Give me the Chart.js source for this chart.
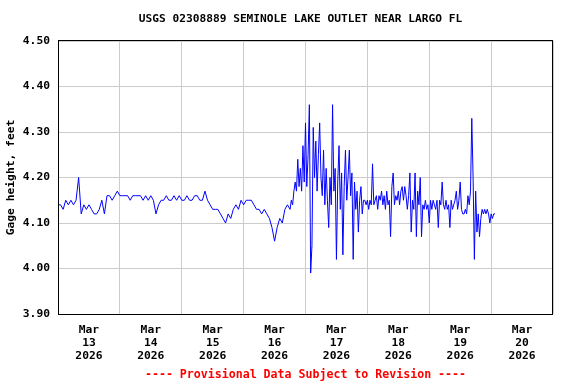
<!DOCTYPE html>
<html>
<head>
<meta charset="utf-8">
<script src="https://cdn.jsdelivr.net/npm/chart.js@4/dist/chart.umd.min.js"></script>
<style>
  body { margin: 0; background: #fff; }
  #wrap { width: 576px; height: 384px; }
</style>
</head>
<body>
<div id="wrap"><canvas id="chart" width="576" height="384"></canvas></div>
<script>
// Gage height, feet. Hours are counted from Mar 12 12:00.
// Calm stretch
const hourlyStart = 0;
const hourlyStep = 1;
const hourlyHeights = [
    4.14, 4.14, 4.13, 4.15, 4.14, 4.15, 4.14, 4.15, 4.20, 4.12,
    4.14, 4.13, 4.14, 4.13, 4.12, 4.12, 4.13, 4.15, 4.12, 4.16,
    4.16, 4.15, 4.16, 4.17, 4.16, 4.16, 4.16, 4.16, 4.15, 4.16,
    4.16, 4.16, 4.16, 4.15, 4.16, 4.15, 4.16, 4.15, 4.12, 4.14,
    4.15, 4.15, 4.16, 4.15, 4.15, 4.16, 4.15, 4.16, 4.15, 4.15,
    4.16, 4.15, 4.15, 4.16, 4.16, 4.15, 4.15, 4.17, 4.15, 4.14,
    4.13, 4.13, 4.13, 4.12, 4.11, 4.10, 4.12, 4.11, 4.13, 4.14,
    4.13, 4.15, 4.14, 4.15, 4.15, 4.15, 4.14, 4.13, 4.13, 4.12,
    4.13, 4.12, 4.11, 4.09, 4.06, 4.09, 4.11, 4.10, 4.13, 4.14,
    4.13
];

// Noisy stretch every half hour
const halfHourlyStart = 90.5;
const halfHourlyStep = 0.5;
const halfHourlyHeights = [
    4.15, 4.14, 4.17, 4.19, 4.17, 4.24, 4.18, 4.22, 4.17, 4.27,
    4.19, 4.32, 4.18, 4.25, 4.36, 3.99, 4.05, 4.31, 4.20, 4.28,
    4.17, 4.25, 4.32, 4.20, 4.16, 4.26, 4.14, 4.22, 4.15, 4.09,
    4.20, 4.14, 4.36, 4.17, 4.22, 4.02, 4.19, 4.27, 4.13, 4.21,
    4.03, 4.18, 4.26, 4.15, 4.20, 4.26, 4.16, 4.21, 4.02, 4.19,
    4.13, 4.17, 4.08, 4.15, 4.18, 4.12, 4.15, 4.15, 4.14, 4.15,
    4.13, 4.15, 4.14, 4.23, 4.14, 4.15, 4.16, 4.13, 4.16, 4.15,
    4.17, 4.14, 4.16, 4.13, 4.17, 4.14, 4.15, 4.07, 4.18, 4.21,
    4.14, 4.16, 4.15, 4.17, 4.14, 4.17, 4.18, 4.15, 4.18, 4.16,
    4.13, 4.16, 4.21, 4.08, 4.15, 4.13, 4.21, 4.07, 4.17, 4.14,
    4.20, 4.07, 4.14, 4.13, 4.15, 4.13, 4.14, 4.10, 4.15, 4.13,
    4.15, 4.14, 4.13, 4.15, 4.09, 4.15, 4.14, 4.19, 4.14, 4.13,
    4.15, 4.13, 4.14, 4.09, 4.15, 4.13, 4.14, 4.15, 4.17, 4.13,
    4.15, 4.19, 4.13, 4.12, 4.12, 4.13, 4.12, 4.16, 4.14, 4.17,
    4.33, 4.20, 4.02, 4.17, 4.08, 4.12, 4.07, 4.11, 4.13, 4.12,
    4.13, 4.12, 4.13, 4.12, 4.10, 4.12, 4.11, 4.12, 4.12
];

// Axis labels
const dayLabels = ['13', '14', '15', '16', '17', '18', '19', '20'];
const monthLabel = 'Mar';
const yearLabel = '2026';
const yMin = 3.90, yMax = 4.50, yStep = 0.1;
const xMaxHours = 192;

const titleText = 'USGS 02308889 SEMINOLE LAKE OUTLET NEAR LARGO FL';
const footerText = '---- Provisional Data Subject to Revision ----';
const yTitle = 'Gage height, feet';

const mono = '"DejaVu Sans Mono", "Liberation Mono", monospace';

// Black frame round the plot, title and footer centred over the plot
const frame = {
    id: 'frame',
    afterDraw(chart) {
        const a = chart.chartArea, ctx = chart.ctx;
        const cx = (a.left + a.right) / 2;
        ctx.save();
        ctx.strokeStyle = '#000';
        ctx.lineWidth = 1;
        ctx.strokeRect(Math.round(a.left) + 0.5, Math.round(a.top) - 0.5,
            Math.round(a.right - a.left) - 1, Math.round(a.bottom - a.top) + 1);
        ctx.textAlign = 'center';
        ctx.textBaseline = 'middle';
        ctx.fillStyle = '#000';
        ctx.font = 'bold 11.2px ' + mono;
        ctx.fillText(titleText, cx - 5, 19);
        ctx.fillStyle = '#ff0000';
        ctx.font = 'bold 11.6px ' + mono;
        ctx.fillText(footerText, cx, 375);
        ctx.restore();
    }
};

const points = hourlyHeights.map((v, i) => ({ x: hourlyStart + i * hourlyStep, y: v }))
    .concat(halfHourlyHeights.map((v, i) => ({ x: halfHourlyStart + i * halfHourlyStep, y: v })));

new Chart(document.getElementById('chart'), {
    type: 'line',
    data: {
        datasets: [{
            data: points,
            borderColor: '#0000ff',
            borderWidth: 1,
            pointRadius: 0,
            tension: 0,
            fill: false
        }]
    },
    options: {
        responsive: false,
        animation: false,
        layout: { padding: { left: 0, right: 23, top: 41, bottom: 20 } },
        plugins: {
            legend: { display: false },
            tooltip: { enabled: false }
        },
        scales: {
            x: {
                type: 'linear',
                min: 0,
                max: xMaxHours,
                afterFit(scale) { scale.height = 50; },
                border: { display: false },
                grid: {
                    drawTicks: false,
                    color: ctx => (ctx.tick && ctx.tick.value % 24 === 0) ? '#cccccc' : 'rgba(0,0,0,0)'
                },
                ticks: {
                    stepSize: 12,
                    autoSkip: false,
                    maxRotation: 0,
                    padding: 9.5,
                    color: '#000',
                    font: { family: mono, size: 11.3, weight: 'bold', lineHeight: 1.15 },
                    callback(value) {
                        if (value % 24 !== 12) return '';
                        const d = dayLabels[(value - 12) / 24];
                        return d ? [monthLabel, d, yearLabel] : '';
                    }
                }
            },
            y: {
                min: yMin,
                max: yMax,
                afterFit(scale) { scale.width = 58; },
                border: { display: false },
                grid: { drawTicks: false, color: '#cccccc' },
                ticks: {
                    stepSize: yStep,
                    padding: 8,
                    color: '#000',
                    font: { family: mono, size: 11.3, weight: 'bold' },
                    callback: v => v.toFixed(2)
                },
                title: {
                    display: true,
                    text: yTitle,
                    color: '#000',
                    font: { family: mono, size: 11.3, weight: 'bold', lineHeight: 1.2 },
                    padding: { top: 4, bottom: 0 }
                }
            }
        }
    },
    plugins: [frame]
});
</script>
</body>
</html>
